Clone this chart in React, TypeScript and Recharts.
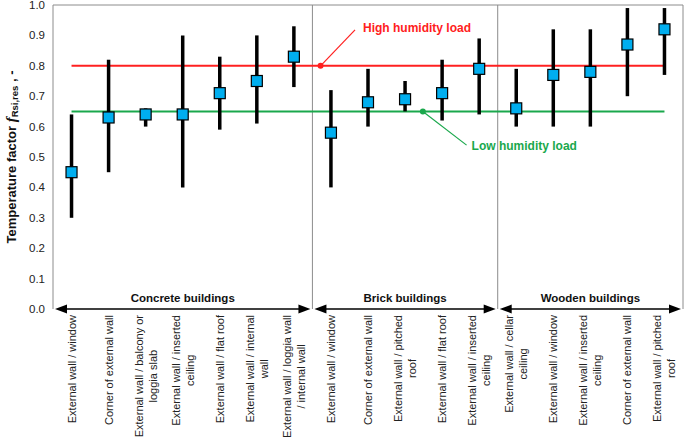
import {
  ComposedChart,
  XAxis,
  YAxis,
  Line,
  Scatter,
  ErrorBar,
  ReferenceLine,
} from "recharts";

// x-axis labels, one array of text lines per joint
const categories: string[][] = [
  ["External wall / window"],
  ["Corner of external wall"],
  ["External wall / balcony or", "loggia slab"],
  ["External wall / inserted", "ceiling"],
  ["External wall / flat roof"],
  ["External wall / internal", "wall"],
  ["External wall / loggia wall", "/ internal wall"],
  ["External wall / window"],
  ["Corner of external wall"],
  ["External wall / pitched", "roof"],
  ["External wall / flat roof"],
  ["External wall / inserted", "ceiling"],
  ["External wall / cellar", "ceiling"],
  ["External wall / window"],
  ["External wall / inserted", "ceiling"],
  ["Corner of external wall"],
  ["External wall / pitched", "roof"],
];

const meanValues = [0.45, 0.63, 0.64, 0.64, 0.71, 0.75, 0.83, 0.58, 0.68, 0.69, 0.71, 0.79, 0.66, 0.77, 0.78, 0.87, 0.92];
const minValues = [0.3, 0.45, 0.6, 0.4, 0.59, 0.61, 0.73, 0.4, 0.6, 0.65, 0.62, 0.64, 0.6, 0.6, 0.6, 0.7, 0.77];
const maxValues = [0.64, 0.82, 0.66, 0.9, 0.83, 0.9, 0.93, 0.72, 0.79, 0.75, 0.82, 0.89, 0.79, 0.92, 0.92, 0.99, 0.99];

const groupNames = ["Concrete buildings", "Brick buildings", "Wooden buildings"];
const groupSizes = [7, 5, 5];

const yTicks = [0, 0.1, 0.2, 0.3, 0.4, 0.5, 0.6, 0.7, 0.8, 0.9, 1.0];

const HIGH_LOAD = 0.8;
const LOW_LOAD = 0.65;

const RED = "#ff2020";
const GREEN = "#1aa84c";
const FONT = "Arial, 'Liberation Sans', sans-serif";

const rows = categories.map((_, i) => ({
  x: i + 0.5,
  mean: meanValues[i],
  err: [meanValues[i] - minValues[i], maxValues[i] - meanValues[i]],
  high: HIGH_LOAD,
  low: LOW_LOAD,
}));

const xTicks = rows.map((r) => r.x);

// group spans on the numeric x axis
const groups = groupNames.map((name, i) => {
  const start = groupSizes.slice(0, i).reduce((a, b) => a + b, 0);
  return { name, start, end: start + groupSizes[i] };
});

let measureCtx: CanvasRenderingContext2D | null = null;
function textWidth(s: string, font: string) {
  if (!measureCtx) measureCtx = document.createElement("canvas").getContext("2d");
  if (!measureCtx) return s.length * 5.5;
  measureCtx.font = font;
  return measureCtx.measureText(s).width;
}

function CategoryTick(props: any) {
  const { x, y, payload } = props;
  const lines = categories[Math.floor(payload.value)] || [];
  const maxW = Math.max(...lines.map((l) => textWidth(l, "11px Arial")));
  const spacing = 14;
  return (
    <g>
      {lines.map((line, i) => {
        const lx = x + (i - (lines.length - 1) / 2) * spacing;
        const ly = y + maxW / 2;
        return (
          <text
            key={i}
            x={lx}
            y={ly}
            transform={`rotate(-90, ${lx}, ${ly})`}
            textAnchor="middle"
            dominantBaseline="central"
            fontSize={11}
            fontFamily={FONT}
            fill="#222"
          >
            {line}
          </text>
        );
      })}
    </g>
  );
}

function YTitle(props: any) {
  const { viewBox } = props;
  const cx = viewBox.x + 11;
  const cy = viewBox.y + 152;
  return (
    <text
      x={cx}
      y={cy}
      transform={`rotate(-90, ${cx}, ${cy})`}
      textAnchor="middle"
      dominantBaseline="central"
      fontSize={13}
      fontWeight="bold"
      fontFamily={FONT}
      fill="#111"
    >
      Temperature factor{" "}
      <tspan fontStyle="italic" fontFamily="'Liberation Serif', serif" fontSize={15}>
        f
      </tspan>
      <tspan fontSize={9.5} dy={3}>
        Rsi,res
      </tspan>
      <tspan dy={-3}> , -</tspan>
    </text>
  );
}

function GroupBracket(props: any) {
  const { x1, y1, x2, name } = props;
  const a = x1 + 2;
  const b = x2 - 2;
  const y = y1;
  return (
    <g>
      <line x1={a + 8} y1={y} x2={b - 8} y2={y} stroke="#000" strokeWidth={1.3} />
      <path d={`M${a},${y} L${a + 12},${y - 4.5} L${a + 12},${y + 4.5} Z`} fill="#000" />
      <path d={`M${b},${y} L${b - 12},${y - 4.5} L${b - 12},${y + 4.5} Z`} fill="#000" />
      <text
        x={(a + b) / 2}
        y={y - 11}
        textAnchor="middle"
        dominantBaseline="central"
        fontSize={11.5}
        fontWeight="bold"
        fontFamily={FONT}
        fill="#111"
      >
        {name}
      </text>
    </g>
  );
}

function Callout(props: any) {
  const { x1, y1, x2, y2, color, text, dx, dy } = props;
  return (
    <g>
      <line x1={x1} y1={y1} x2={x2} y2={y2} stroke={color} strokeWidth={1.2} />
      <circle cx={x1} cy={y1} r={3} fill={color} />
      <text
        x={x2 + dx}
        y={y2 + dy}
        textAnchor="start"
        dominantBaseline="central"
        fontSize={12}
        fontWeight="bold"
        fontFamily={FONT}
        fill={color}
      >
        {text}
      </text>
    </g>
  );
}

function MeanSquare(props: any) {
  const { cx, cy } = props;
  if (cx == null || cy == null) return null;
  return <rect x={cx - 5.5} y={cy - 5.5} width={11} height={11} fill="#00aeef" stroke="#000" strokeWidth={1.2} />;
}

export default function App() {
  return (
    <div style={{ position: "absolute", left: 0, top: 0, width: 685, height: 448, background: "#fff" }}>
      <ComposedChart width={685} height={448} data={rows} margin={{ top: 5, right: 2, bottom: 0, left: 0 }}>
        <XAxis
          dataKey="x"
          type="number"
          domain={[0, 17]}
          ticks={xTicks}
          interval={0}
          axisLine={false}
          tickLine={false}
          tickSize={0}
          tickMargin={6}
          height={139}
          tick={<CategoryTick />}
        />
        <YAxis
          type="number"
          domain={[0, 1]}
          ticks={yTicks}
          interval={0}
          width={53}
          tickLine={false}
          axisLine={{ stroke: "#8c8c8c" }}
          tickFormatter={(v: number) => v.toFixed(1)}
          tick={{ fontSize: 11.5, fontFamily: FONT, fill: "#222" }}
          label={{ content: <YTitle /> }}
        />
        <ReferenceLine y={1} stroke="#8c8c8c" />
        <ReferenceLine x={17} stroke="#8c8c8c" />
        {groups.slice(1).map((g) => (
          <ReferenceLine key={g.name} x={g.start} stroke="#8c8c8c" />
        ))}
        <Line dataKey="high" stroke={RED} strokeWidth={2} dot={false} activeDot={false} isAnimationActive={false} />
        <Line dataKey="low" stroke={GREEN} strokeWidth={2} dot={false} activeDot={false} isAnimationActive={false} />
        <Scatter dataKey="mean" shape={<MeanSquare />} isAnimationActive={false}>
          <ErrorBar dataKey="err" direction="y" width={0} strokeWidth={3.5} stroke="#000" />
        </Scatter>
        {groups.map((g) => (
          <ReferenceLine
            key={`b-${g.name}`}
            segment={[
              { x: g.start, y: 0 },
              { x: g.end, y: 0 },
            ]}
            shape={(p: any) => <GroupBracket {...p} name={g.name} />}
          />
        ))}
        <ReferenceLine
          segment={[
            { x: 7.22, y: HIGH_LOAD },
            { x: 8.15, y: 0.918 },
          ]}
          shape={(p: any) => <Callout {...p} color={RED} text="High humidity load" dx={8} dy={-2} />}
        />
        <ReferenceLine
          segment={[
            { x: 9.98, y: LOW_LOAD },
            { x: 11.16, y: 0.539 },
          ]}
          shape={(p: any) => <Callout {...p} color={GREEN} text="Low humidity load" dx={5} dy={1} />}
        />
      </ComposedChart>
    </div>
  );
}
